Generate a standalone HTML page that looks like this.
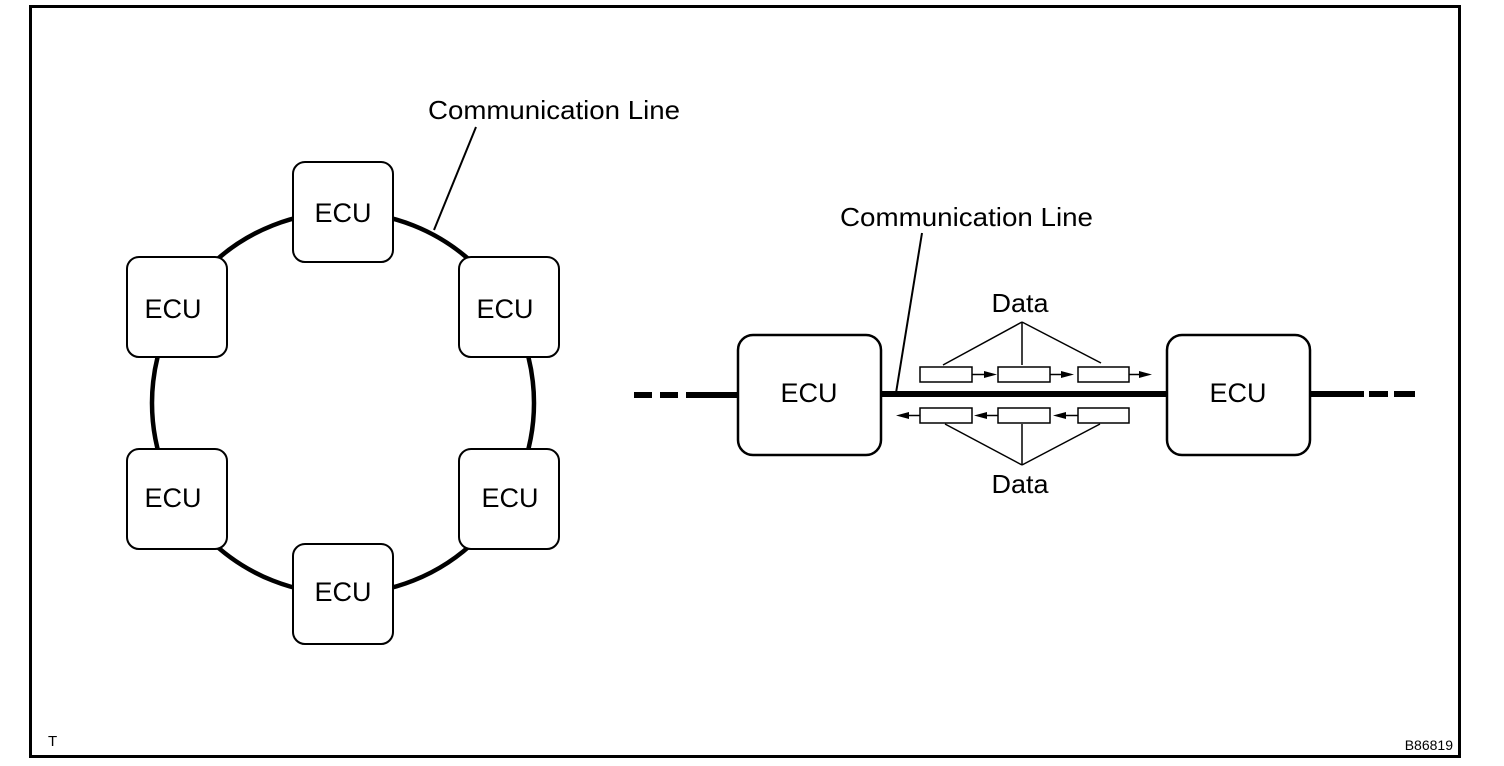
<!DOCTYPE html>
<html><head><style>
html,body{margin:0;padding:0;background:#fff;}
svg{display:block;}
text{font-family:"Liberation Sans",Arial,sans-serif;fill:#000;}
</style></head><body>
<svg width="1504" height="766" viewBox="0 0 1504 766" xmlns="http://www.w3.org/2000/svg">
<rect x="30.5" y="6.5" width="1429" height="750" fill="none" stroke="#000" stroke-width="3"/>
<circle cx="343" cy="403" r="191" fill="none" stroke="#000" stroke-width="4.5"/>
<g fill="#fff" stroke="#000" stroke-width="2">
<rect x="293" y="162" width="100" height="100" rx="12"/>
<rect x="127" y="257" width="100" height="100" rx="12"/>
<rect x="459" y="257" width="100" height="100" rx="12"/>
<rect x="127" y="449" width="100" height="100" rx="12"/>
<rect x="459" y="449" width="100" height="100" rx="12"/>
<rect x="293" y="544" width="100" height="100" rx="12"/>
</g>
<g font-size="27" text-anchor="middle">
<text x="343" y="222" textLength="57" lengthAdjust="spacingAndGlyphs">ECU</text>
<text x="173" y="318" textLength="57" lengthAdjust="spacingAndGlyphs">ECU</text>
<text x="505" y="318" textLength="57" lengthAdjust="spacingAndGlyphs">ECU</text>
<text x="173" y="507" textLength="57" lengthAdjust="spacingAndGlyphs">ECU</text>
<text x="510" y="507" textLength="57" lengthAdjust="spacingAndGlyphs">ECU</text>
<text x="343" y="601" textLength="57" lengthAdjust="spacingAndGlyphs">ECU</text>
</g>
<text x="428" y="119" font-size="26" textLength="252" lengthAdjust="spacingAndGlyphs">Communication Line</text>
<line x1="476" y1="127" x2="434" y2="230" stroke="#000" stroke-width="2"/>
<g stroke="#000" stroke-width="6">
<line x1="634" y1="395" x2="652" y2="395"/>
<line x1="660" y1="395" x2="678" y2="395"/>
<line x1="686" y1="395" x2="740" y2="395"/>
<line x1="880" y1="394" x2="1170" y2="394"/>
<line x1="1309" y1="394" x2="1364" y2="394"/>
<line x1="1369" y1="394" x2="1388" y2="394"/>
<line x1="1394" y1="394" x2="1415" y2="394"/>
</g>
<g fill="#fff" stroke="#000" stroke-width="2.5">
<rect x="738" y="335" width="143" height="120" rx="15"/>
<rect x="1167" y="335" width="143" height="120" rx="15"/>
</g>
<text x="809" y="402" font-size="27" text-anchor="middle" textLength="57" lengthAdjust="spacingAndGlyphs">ECU</text>
<text x="1238" y="402" font-size="27" text-anchor="middle" textLength="57" lengthAdjust="spacingAndGlyphs">ECU</text>
<text x="840" y="226" font-size="26" textLength="253" lengthAdjust="spacingAndGlyphs">Communication Line</text>
<line x1="922" y1="233" x2="896" y2="393" stroke="#000" stroke-width="2"/>
<g fill="#fff" stroke="#000" stroke-width="1.5">
<rect x="920" y="367" width="52" height="15"/>
<rect x="998" y="367" width="52" height="15"/>
<rect x="1078" y="367" width="51" height="15"/>
<rect x="920" y="408" width="52" height="15"/>
<rect x="998" y="408" width="52" height="15"/>
<rect x="1078" y="408" width="51" height="15"/>
</g>
<g stroke="#000" stroke-width="1.5">
<line x1="972" y1="374.5" x2="985" y2="374.5"/>
<line x1="1050" y1="374.5" x2="1062" y2="374.5"/>
<line x1="1129" y1="374.5" x2="1140" y2="374.5"/>
<line x1="908" y1="415.5" x2="920" y2="415.5"/>
<line x1="986" y1="415.5" x2="998" y2="415.5"/>
<line x1="1065" y1="415.5" x2="1078" y2="415.5"/>
<line x1="943" y1="365" x2="1022" y2="322"/>
<line x1="1022" y1="365" x2="1022" y2="322"/>
<line x1="1101" y1="363" x2="1022" y2="322"/>
<line x1="945" y1="424" x2="1022" y2="465"/>
<line x1="1022" y1="424" x2="1022" y2="465"/>
<line x1="1100" y1="424" x2="1022" y2="465"/>
</g>
<g fill="#000">
<polygon points="984,371 997,374.5 984,378"/>
<polygon points="1061,371 1074,374.5 1061,378"/>
<polygon points="1139,371 1152,374.5 1139,378"/>
<polygon points="909,412 896,415.5 909,419"/>
<polygon points="987,412 974,415.5 987,419"/>
<polygon points="1066,412 1053,415.5 1066,419"/>
</g>
<text x="1020" y="312" font-size="26" text-anchor="middle" textLength="57" lengthAdjust="spacingAndGlyphs">Data</text>
<text x="1020" y="493" font-size="26" text-anchor="middle" textLength="57" lengthAdjust="spacingAndGlyphs">Data</text>
<text x="48" y="746" font-size="15">T</text>
<text x="1453" y="750" font-size="14" text-anchor="end">B86819</text>
</svg>
</body></html>
